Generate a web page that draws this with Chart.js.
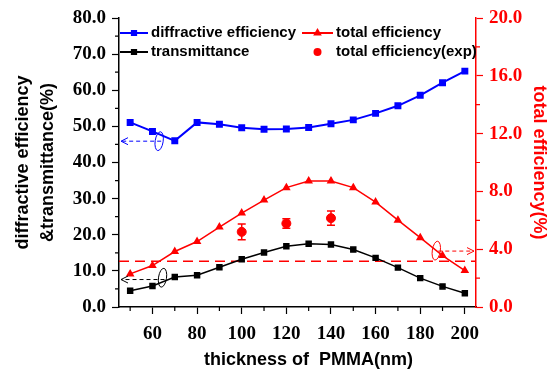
<!DOCTYPE html>
<html>
<head>
<meta charset="utf-8">
<script src="https://cdn.jsdelivr.net/npm/chart.js@4.4.0/dist/chart.umd.min.js"></script>
<style>
  html, body { margin: 0; padding: 0; background: #fff; }
</style>
</head>
<body>
<canvas id="chart" width="551" height="370"></canvas>
<script>
// thickness of PMMA (nm) and the three simulated curves
const thickness = [50, 60, 70, 80, 90, 100, 110, 120, 130, 140, 150, 160, 170, 180, 190, 200];
const diffractive = [51.1, 48.6, 46.0, 51.1, 50.6, 49.6, 49.2, 49.3, 49.7, 50.7, 51.8, 53.6, 55.7, 58.6, 62.1, 65.3];
const transmittance = [4.5, 5.8, 8.3, 8.8, 11.0, 13.2, 15.1, 16.8, 17.5, 17.3, 15.9, 13.6, 10.9, 8.0, 5.7, 3.8];
const totalEff = [2.29, 2.87, 3.84, 4.53, 5.53, 6.5, 7.4, 8.26, 8.72, 8.72, 8.26, 7.26, 6.01, 4.8, 3.56, 2.52];

// measured total efficiency with error bars
const expThickness = [100, 120, 140];
const expTotal = [5.2, 5.78, 6.15];
const expError = [0.54, 0.33, 0.49];

// red dashed reference level (right axis)
const refLevel = 3.17;

const xRange = [45, 205];
const xTicks = [60, 80, 100, 120, 140, 160, 180, 200];
const xMinor = [50, 70, 90, 110, 130, 150, 170, 190];
const leftTicks = [0, 10, 20, 30, 40, 50, 60, 70, 80];
const leftMinor = [5, 15, 25, 35, 45, 55, 65, 75];
const rightTicks = [0, 4, 8, 12, 16, 20];
const rightMinor = [2, 6, 10, 14, 18];

// curve markers: ellipse around curve + dashed arrow to its axis
const markers = [
  { x: 63, y: 45.9, arrowY: 45.9, axis: "y", color: "#0000ff", dir: "left" },
  { x: 64.5, y: 8.1, arrowY: 7.6, axis: "y", color: "#000000", dir: "left" },
  { x: 187.2, y: 3.9, arrowY: 3.87, axis: "y2", color: "#ff0000", dir: "right" },
];

const BLUE = "#0000ff";
const RED = "#ff0000";
const SERIF = "'Liberation Serif', 'Times New Roman', serif";
const SANS = "'Liberation Sans', Arial, sans-serif";

const pts = (xs, ys) => xs.map((x, i) => ({ x, y: ys[i] }));

const extras = {
  id: "extras",
  beforeDatasetsDraw(chart) {
    const { ctx } = chart;
    const x = chart.scales.x, y2 = chart.scales.y2;
    ctx.save();
    ctx.strokeStyle = RED;
    ctx.lineWidth = 1.5;
    expThickness.forEach((t, i) => {
      const px = x.getPixelForValue(t);
      const top = y2.getPixelForValue(expTotal[i] + expError[i]);
      const bot = y2.getPixelForValue(expTotal[i] - expError[i]);
      ctx.beginPath();
      ctx.moveTo(px, top); ctx.lineTo(px, bot);
      ctx.moveTo(px - 4, top); ctx.lineTo(px + 4, top);
      ctx.moveTo(px - 4, bot); ctx.lineTo(px + 4, bot);
      ctx.stroke();
    });
    ctx.restore();
  },
  afterDraw(chart) {
    const { ctx, chartArea } = chart;
    const x = chart.scales.x, y = chart.scales.y, y2 = chart.scales.y2;
    ctx.save();

    // minor ticks
    ctx.lineWidth = 1.2;
    ctx.strokeStyle = "#000";
    ctx.beginPath();
    xMinor.forEach((v) => {
      const p = x.getPixelForValue(v);
      ctx.moveTo(p, chartArea.bottom); ctx.lineTo(p, chartArea.bottom + 4);
    });
    leftMinor.forEach((v) => {
      const p = y.getPixelForValue(v);
      ctx.moveTo(chartArea.left, p); ctx.lineTo(chartArea.left - 4, p);
    });
    ctx.stroke();
    ctx.strokeStyle = RED;
    ctx.beginPath();
    rightMinor.forEach((v) => {
      const p = y2.getPixelForValue(v);
      ctx.moveTo(chartArea.right, p); ctx.lineTo(chartArea.right + 4, p);
    });
    ctx.stroke();

    // markers
    markers.forEach((m) => {
      const sc = m.axis === "y" ? y : y2;
      const cx = x.getPixelForValue(m.x);
      const cy = sc.getPixelForValue(m.y);
      const ay = sc.getPixelForValue(m.arrowY);
      ctx.strokeStyle = m.color;
      ctx.lineWidth = 1;
      ctx.setLineDash([]);
      ctx.beginPath();
      ctx.ellipse(cx, cy, 4, 9.5, 0.15, 0, Math.PI * 2);
      ctx.stroke();
      const end = m.dir === "left" ? chartArea.left + 2 : chartArea.right - 2;
      const start = cx + 2;
      ctx.setLineDash([4, 3]);
      ctx.beginPath();
      ctx.moveTo(start, ay); ctx.lineTo(end, ay);
      ctx.stroke();
      ctx.setLineDash([]);
      const s = m.dir === "left" ? 1 : -1;
      ctx.beginPath();
      ctx.moveTo(end + s * 7, ay - 3.5); ctx.lineTo(end, ay); ctx.lineTo(end + s * 7, ay + 3.5);
      ctx.stroke();
    });

    // legend
    const rows = [
      { lx: 120, len: 28, ty: 33, color: BLUE, style: "rect", label: "diffractive efficiency", line: true },
      { lx: 302, len: 31, ty: 33, color: RED, style: "triangle", label: "total efficiency", line: true },
      { lx: 120, len: 28, ty: 52, color: "#000", style: "rect", label: "transmittance", line: true },
      { lx: 302, len: 31, ty: 52, color: RED, style: "circle", label: "total efficiency(exp)", line: false },
    ];
    ctx.font = `bold 15px ${SANS}`;
    ctx.textBaseline = "middle";
    ctx.textAlign = "left";
    rows.forEach((r) => {
      ctx.strokeStyle = r.color;
      ctx.fillStyle = r.color;
      ctx.lineWidth = 2;
      const mid = r.lx + r.len / 2;
      if (r.line) {
        ctx.beginPath();
        ctx.moveTo(r.lx, r.ty); ctx.lineTo(r.lx + r.len, r.ty);
        ctx.stroke();
        Chart.helpers.drawPoint(ctx, { pointStyle: r.style, radius: 3, borderWidth: 1 }, mid, r.ty);
      } else {
        ctx.beginPath();
        ctx.arc(mid, r.ty, 4, 0, Math.PI * 2);
        ctx.fill();
      }
      ctx.fillStyle = "#000";
      ctx.fillText(r.label, r.lx + r.len + 3, r.ty);
    });

    // axis titles
    ctx.font = `bold 18px ${SANS}`;
    ctx.fillStyle = "#000";
    ctx.textAlign = "center";
    ctx.fillText("thickness of  PMMA(nm)", (chartArea.left + chartArea.right) / 2 + 11, 360);
    const midY = (chartArea.top + chartArea.bottom) / 2;
    ctx.save();
    ctx.translate(23, midY);
    ctx.rotate(-Math.PI / 2);
    ctx.fillText("diffractive efficiency", 0, 0);
    ctx.fillText("&transmittance(%)", 0, 25);
    ctx.restore();
    ctx.save();
    ctx.fillStyle = RED;
    ctx.translate(539, midY);
    ctx.rotate(Math.PI / 2);
    ctx.fillText("total efficiency(%)", 0, 0);
    ctx.restore();

    ctx.restore();
  },
};

new Chart(document.getElementById("chart"), {
  data: {
    datasets: [
      {
        type: "line", label: "diffractive efficiency", data: pts(thickness, diffractive), yAxisID: "y",
        borderColor: BLUE, backgroundColor: BLUE, borderWidth: 2, pointStyle: "rect", pointRadius: 3.5, tension: 0,
      },
      {
        type: "line", label: "transmittance", data: pts(thickness, transmittance), yAxisID: "y",
        borderColor: "#000", backgroundColor: "#000", borderWidth: 1.5, pointStyle: "rect", pointRadius: 3.5, tension: 0,
      },
      {
        type: "line", label: "total efficiency", data: pts(thickness, totalEff), yAxisID: "y2",
        borderColor: RED, backgroundColor: RED, borderWidth: 1.5, pointStyle: "triangle", pointRadius: 3.5, tension: 0,
      },
      {
        type: "line", label: "reference", data: pts(xRange, [refLevel, refLevel]), yAxisID: "y2",
        borderColor: RED, borderWidth: 1.5, borderDash: [10, 6], pointRadius: 0,
      },
      {
        type: "scatter", label: "total efficiency(exp)", data: pts(expThickness, expTotal), yAxisID: "y2",
        backgroundColor: RED, borderColor: RED, pointStyle: "circle", pointRadius: 4.5,
      },
    ],
  },
  options: {
    responsive: false,
    animation: false,
    devicePixelRatio: 1,
    layout: { padding: { top: 18, left: 0, right: 0, bottom: 0 } },
    plugins: { legend: { display: false }, tooltip: { enabled: false } },
    scales: {
      x: {
        type: "linear", min: xRange[0], max: xRange[1],
        afterBuildTicks: (s) => { s.ticks = xTicks.map((v) => ({ value: v })); },
        afterFit: (s) => { s.height = 63; },
        grid: { drawOnChartArea: false, drawTicks: true, tickLength: 7, tickColor: "#000", tickWidth: 1.2 },
        border: { color: "#000", width: 1.5 },
        ticks: { color: "#000", font: { family: SERIF, weight: "bold", size: 19 }, padding: 9, maxRotation: 0 },
      },
      y: {
        type: "linear", position: "left", min: 0, max: 80,
        afterBuildTicks: (s) => { s.ticks = leftTicks.map((v) => ({ value: v })); },
        afterFit: (s) => { s.width = 119; },
        grid: { drawOnChartArea: false, drawTicks: true, tickLength: 7, tickColor: "#000", tickWidth: 1.2 },
        border: { color: "#000", width: 1.5 },
        ticks: { color: "#000", font: { family: SERIF, weight: "bold", size: 19 }, padding: 6, callback: (v) => v.toFixed(1) },
      },
      y2: {
        type: "linear", position: "right", min: 0, max: 20,
        afterBuildTicks: (s) => { s.ticks = rightTicks.map((v) => ({ value: v })); },
        afterFit: (s) => { s.width = 75; },
        grid: { drawOnChartArea: false, drawTicks: true, tickLength: 7, tickColor: RED, tickWidth: 1.2 },
        border: { color: RED, width: 1.5 },
        ticks: { color: RED, font: { family: SERIF, weight: "bold", size: 19 }, padding: 6, callback: (v) => v.toFixed(1) },
      },
    },
  },
  plugins: [extras],
});
</script>
</body>
</html>
